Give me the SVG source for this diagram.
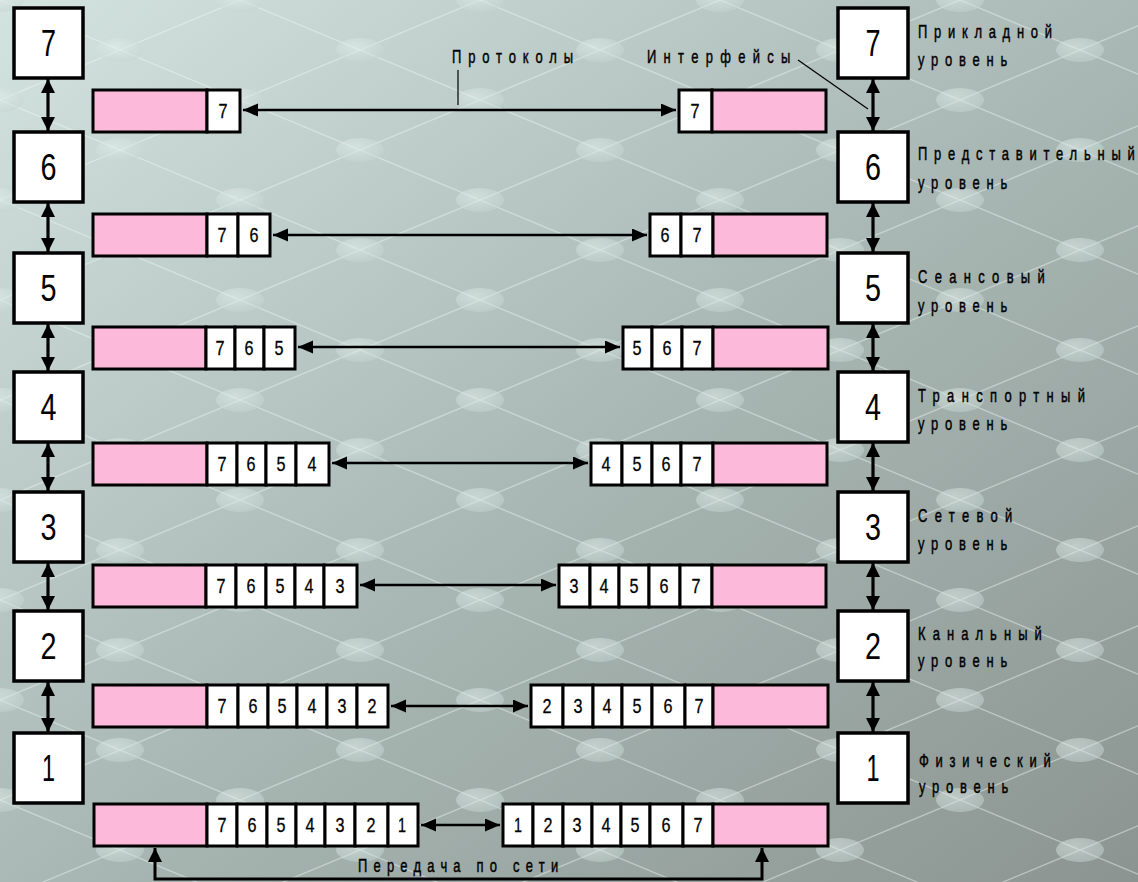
<svg xmlns="http://www.w3.org/2000/svg" width="1138" height="882" viewBox="0 0 1138 882">
<defs>
<linearGradient id="bg" x1="0" y1="0" x2="1" y2="1">
<stop offset="0" stop-color="#d3e3df"/>
<stop offset="0.5" stop-color="#aab9b5"/>
<stop offset="1" stop-color="#8b9491"/>
</linearGradient>
<radialGradient id="blob" cx="0.4" cy="0.35" r="0.7">
<stop offset="0" stop-color="#e8f3f0"/>
<stop offset="1" stop-color="#c3d3cf"/>
</radialGradient>
<pattern id="mesh" patternUnits="userSpaceOnUse" width="240" height="100">
<path d="M0,0 L240,100 M0,100 L240,0" stroke="#eef6f4" stroke-opacity="0.45" stroke-width="1.3" fill="none"/>
<g fill="url(#blob)" opacity="0.5">
<ellipse cx="0" cy="0" rx="24" ry="12"/>
<ellipse cx="240" cy="0" rx="24" ry="12"/>
<ellipse cx="0" cy="100" rx="24" ry="12"/>
<ellipse cx="240" cy="100" rx="24" ry="12"/>
<ellipse cx="120" cy="50" rx="24" ry="12"/>
</g>
</pattern>
<marker id="ah" markerUnits="userSpaceOnUse" markerWidth="16" markerHeight="14" refX="15" refY="6.5" orient="auto-start-reverse">
<path d="M0,0 L15,6.5 L0,13 z" fill="#000"/>
</marker>
<marker id="vh" markerUnits="userSpaceOnUse" markerWidth="16" markerHeight="15" refX="14" refY="7" orient="auto-start-reverse">
<path d="M0,0 L14,7 L0,14 z" fill="#000"/>
</marker>
<style>
.box{fill:#fff;stroke:#000;stroke-width:3.5}
.pink{fill:#fdb9da;stroke:#000;stroke-width:3}
.cell{fill:#fff;stroke:#000;stroke-width:3}
.big{font-family:"Liberation Sans",Arial,sans-serif;font-size:36px;fill:#000;text-anchor:middle}
.dig{font-family:"Liberation Sans",Arial,sans-serif;font-size:21px;fill:#000;text-anchor:middle;stroke:#000;stroke-width:0.3}
.lbl{font-family:"Liberation Sans",Arial,sans-serif;font-size:18px;fill:#000;stroke:#000;stroke-width:0.45}
.harr{stroke:#000;stroke-width:2.6;fill:none;marker-start:url(#ah);marker-end:url(#ah)}
.varr{stroke:#000;stroke-width:3.2;fill:none;marker-start:url(#vh);marker-end:url(#vh)}
.lead{stroke:#000;stroke-width:1.2;fill:none}
</style>
</defs>
<rect x="0" y="0" width="1138" height="882" fill="url(#bg)"/>
<rect x="0" y="0" width="1138" height="882" fill="url(#mesh)"/>

<!-- left layer boxes -->
<g id="left-7"><rect class="box" x="14" y="8" width="69" height="70"/><text class="big" x="48.5" y="56" textLength="15" lengthAdjust="spacingAndGlyphs">7</text></g>
<g id="left-6"><rect class="box" x="14" y="132" width="69" height="70"/><text class="big" x="48.5" y="180" textLength="16" lengthAdjust="spacingAndGlyphs">6</text></g>
<g id="left-5"><rect class="box" x="14" y="253" width="69" height="70"/><text class="big" x="48.5" y="301" textLength="16" lengthAdjust="spacingAndGlyphs">5</text></g>
<g id="left-4"><rect class="box" x="14" y="372" width="69" height="70"/><text class="big" x="48.5" y="420" textLength="16" lengthAdjust="spacingAndGlyphs">4</text></g>
<g id="left-3"><rect class="box" x="14" y="492" width="69" height="70"/><text class="big" x="48.5" y="540" textLength="16" lengthAdjust="spacingAndGlyphs">3</text></g>
<g id="left-2"><rect class="box" x="14" y="611" width="69" height="70"/><text class="big" x="48.5" y="659" textLength="16" lengthAdjust="spacingAndGlyphs">2</text></g>
<g id="left-1"><rect class="box" x="14" y="733" width="69" height="70"/><text class="big" x="48.5" y="781" textLength="13" lengthAdjust="spacingAndGlyphs">1</text></g>

<!-- right layer boxes with labels -->
<g id="right-7"><rect class="box" x="838" y="8" width="70" height="70"/><text class="big" x="873" y="56" textLength="15" lengthAdjust="spacingAndGlyphs">7</text>
<text class="lbl" transform="translate(918,38) scale(0.72,1)" textLength="186" lengthAdjust="spacing">Прикладной</text>
<text class="lbl" transform="translate(918,66) scale(0.72,1)" textLength="124" lengthAdjust="spacing">уровень</text></g>
<g id="right-6"><rect class="box" x="838" y="132" width="70" height="70"/><text class="big" x="873" y="180" textLength="16" lengthAdjust="spacingAndGlyphs">6</text>
<text class="lbl" transform="translate(918,160) scale(0.72,1)" textLength="301" lengthAdjust="spacing">Представительный</text>
<text class="lbl" transform="translate(918,189) scale(0.72,1)" textLength="124" lengthAdjust="spacing">уровень</text></g>
<g id="right-5"><rect class="box" x="838" y="253" width="70" height="70"/><text class="big" x="873" y="301" textLength="16" lengthAdjust="spacingAndGlyphs">5</text>
<text class="lbl" transform="translate(918,283) scale(0.72,1)" textLength="176" lengthAdjust="spacing">Сеансовый</text>
<text class="lbl" transform="translate(918,312) scale(0.72,1)" textLength="124" lengthAdjust="spacing">уровень</text></g>
<g id="right-4"><rect class="box" x="838" y="372" width="70" height="70"/><text class="big" x="873" y="420" textLength="16" lengthAdjust="spacingAndGlyphs">4</text>
<text class="lbl" transform="translate(918,402) scale(0.72,1)" textLength="232" lengthAdjust="spacing">Транспортный</text>
<text class="lbl" transform="translate(918,430) scale(0.72,1)" textLength="124" lengthAdjust="spacing">уровень</text></g>
<g id="right-3"><rect class="box" x="838" y="492" width="70" height="70"/><text class="big" x="873" y="540" textLength="16" lengthAdjust="spacingAndGlyphs">3</text>
<text class="lbl" transform="translate(918,522) scale(0.72,1)" textLength="131" lengthAdjust="spacing">Сетевой</text>
<text class="lbl" transform="translate(918,550) scale(0.72,1)" textLength="124" lengthAdjust="spacing">уровень</text></g>
<g id="right-2"><rect class="box" x="838" y="611" width="70" height="70"/><text class="big" x="873" y="659" textLength="16" lengthAdjust="spacingAndGlyphs">2</text>
<text class="lbl" transform="translate(918,640) scale(0.72,1)" textLength="172" lengthAdjust="spacing">Канальный</text>
<text class="lbl" transform="translate(918,667) scale(0.72,1)" textLength="124" lengthAdjust="spacing">уровень</text></g>
<g id="right-1"><rect class="box" x="838" y="733" width="70" height="70"/><text class="big" x="873" y="781" textLength="13" lengthAdjust="spacingAndGlyphs">1</text>
<text class="lbl" transform="translate(919,767) scale(0.72,1)" textLength="183" lengthAdjust="spacing">Физический</text>
<text class="lbl" transform="translate(919,793) scale(0.72,1)" textLength="124" lengthAdjust="spacing">уровень</text></g>

<!-- packets, layer 7 row -->
<g id="pkt-l7"><rect class="pink" x="93" y="90" width="114" height="42"/>
<rect class="cell" x="207" y="90" width="33" height="42"/><text class="dig" x="223" y="118" textLength="9" lengthAdjust="spacingAndGlyphs">7</text></g>
<g id="pkt-r7"><rect class="cell" x="679" y="90" width="33" height="42"/><text class="dig" x="695" y="118" textLength="9" lengthAdjust="spacingAndGlyphs">7</text>
<rect class="pink" x="712" y="90" width="114" height="42"/></g>

<!-- layer 6 row -->
<g id="pkt-l6"><rect class="pink" x="93" y="214" width="114" height="42"/>
<rect class="cell" x="207" y="214" width="31" height="42"/><text class="dig" x="222" y="242" textLength="9" lengthAdjust="spacingAndGlyphs">7</text>
<rect class="cell" x="238" y="214" width="32" height="42"/><text class="dig" x="254" y="242" textLength="9" lengthAdjust="spacingAndGlyphs">6</text></g>
<g id="pkt-r6"><rect class="cell" x="650" y="214" width="31" height="42"/><text class="dig" x="665" y="242" textLength="9" lengthAdjust="spacingAndGlyphs">6</text>
<rect class="cell" x="681" y="214" width="32" height="42"/><text class="dig" x="697" y="242" textLength="9" lengthAdjust="spacingAndGlyphs">7</text>
<rect class="pink" x="713" y="214" width="114" height="42"/></g>

<!-- layer 5 row -->
<g id="pkt-l5"><rect class="pink" x="93" y="327" width="113" height="42"/>
<rect class="cell" x="206" y="327" width="29" height="42"/><text class="dig" x="220" y="355" textLength="9" lengthAdjust="spacingAndGlyphs">7</text>
<rect class="cell" x="235" y="327" width="29" height="42"/><text class="dig" x="249" y="355" textLength="9" lengthAdjust="spacingAndGlyphs">6</text>
<rect class="cell" x="264" y="327" width="31" height="42"/><text class="dig" x="279" y="355" textLength="9" lengthAdjust="spacingAndGlyphs">5</text></g>
<g id="pkt-r5"><rect class="cell" x="623" y="327" width="29" height="42"/><text class="dig" x="637" y="355" textLength="9" lengthAdjust="spacingAndGlyphs">5</text>
<rect class="cell" x="652" y="327" width="30" height="42"/><text class="dig" x="667" y="355" textLength="9" lengthAdjust="spacingAndGlyphs">6</text>
<rect class="cell" x="682" y="327" width="31" height="42"/><text class="dig" x="697" y="355" textLength="9" lengthAdjust="spacingAndGlyphs">7</text>
<rect class="pink" x="713" y="327" width="115" height="42"/></g>

<!-- layer 4 row -->
<g id="pkt-l4"><rect class="pink" x="93" y="443" width="114" height="42"/>
<rect class="cell" x="207" y="443" width="30" height="42"/><text class="dig" x="222" y="471" textLength="9" lengthAdjust="spacingAndGlyphs">7</text>
<rect class="cell" x="237" y="443" width="29" height="42"/><text class="dig" x="251" y="471" textLength="9" lengthAdjust="spacingAndGlyphs">6</text>
<rect class="cell" x="266" y="443" width="30" height="42"/><text class="dig" x="281" y="471" textLength="9" lengthAdjust="spacingAndGlyphs">5</text>
<rect class="cell" x="296" y="443" width="33" height="42"/><text class="dig" x="312" y="471" textLength="9" lengthAdjust="spacingAndGlyphs">4</text></g>
<g id="pkt-r4"><rect class="cell" x="591" y="443" width="31" height="42"/><text class="dig" x="606" y="471" textLength="9" lengthAdjust="spacingAndGlyphs">4</text>
<rect class="cell" x="622" y="443" width="30" height="42"/><text class="dig" x="637" y="471" textLength="9" lengthAdjust="spacingAndGlyphs">5</text>
<rect class="cell" x="652" y="443" width="29" height="42"/><text class="dig" x="666" y="471" textLength="9" lengthAdjust="spacingAndGlyphs">6</text>
<rect class="cell" x="681" y="443" width="32" height="42"/><text class="dig" x="697" y="471" textLength="9" lengthAdjust="spacingAndGlyphs">7</text>
<rect class="pink" x="713" y="443" width="114" height="42"/></g>

<!-- layer 3 row -->
<g id="pkt-l3"><rect class="pink" x="93" y="565" width="113" height="42"/>
<rect class="cell" x="206" y="565" width="30" height="42"/><text class="dig" x="221" y="593" textLength="9" lengthAdjust="spacingAndGlyphs">7</text>
<rect class="cell" x="236" y="565" width="30" height="42"/><text class="dig" x="251" y="593" textLength="9" lengthAdjust="spacingAndGlyphs">6</text>
<rect class="cell" x="266" y="565" width="29" height="42"/><text class="dig" x="280" y="593" textLength="9" lengthAdjust="spacingAndGlyphs">5</text>
<rect class="cell" x="295" y="565" width="29" height="42"/><text class="dig" x="309" y="593" textLength="9" lengthAdjust="spacingAndGlyphs">4</text>
<rect class="cell" x="324" y="565" width="33" height="42"/><text class="dig" x="340" y="593" textLength="9" lengthAdjust="spacingAndGlyphs">3</text></g>
<g id="pkt-r3"><rect class="cell" x="559" y="565" width="31" height="42"/><text class="dig" x="574" y="593" textLength="9" lengthAdjust="spacingAndGlyphs">3</text>
<rect class="cell" x="590" y="565" width="29" height="42"/><text class="dig" x="604" y="593" textLength="9" lengthAdjust="spacingAndGlyphs">4</text>
<rect class="cell" x="619" y="565" width="30" height="42"/><text class="dig" x="634" y="593" textLength="9" lengthAdjust="spacingAndGlyphs">5</text>
<rect class="cell" x="649" y="565" width="31" height="42"/><text class="dig" x="664" y="593" textLength="9" lengthAdjust="spacingAndGlyphs">6</text>
<rect class="cell" x="680" y="565" width="32" height="42"/><text class="dig" x="696" y="593" textLength="9" lengthAdjust="spacingAndGlyphs">7</text>
<rect class="pink" x="712" y="565" width="114" height="42"/></g>

<!-- layer 2 row -->
<g id="pkt-l2"><rect class="pink" x="93" y="685" width="114" height="42"/>
<rect class="cell" x="207" y="685" width="31" height="42"/><text class="dig" x="222" y="713" textLength="9" lengthAdjust="spacingAndGlyphs">7</text>
<rect class="cell" x="238" y="685" width="30" height="42"/><text class="dig" x="253" y="713" textLength="9" lengthAdjust="spacingAndGlyphs">6</text>
<rect class="cell" x="268" y="685" width="29" height="42"/><text class="dig" x="282" y="713" textLength="9" lengthAdjust="spacingAndGlyphs">5</text>
<rect class="cell" x="297" y="685" width="30" height="42"/><text class="dig" x="312" y="713" textLength="9" lengthAdjust="spacingAndGlyphs">4</text>
<rect class="cell" x="327" y="685" width="30" height="42"/><text class="dig" x="342" y="713" textLength="9" lengthAdjust="spacingAndGlyphs">3</text>
<rect class="cell" x="357" y="685" width="31" height="42"/><text class="dig" x="372" y="713" textLength="9" lengthAdjust="spacingAndGlyphs">2</text></g>
<g id="pkt-r2"><rect class="cell" x="531" y="685" width="32" height="42"/><text class="dig" x="547" y="713" textLength="9" lengthAdjust="spacingAndGlyphs">2</text>
<rect class="cell" x="563" y="685" width="30" height="42"/><text class="dig" x="578" y="713" textLength="9" lengthAdjust="spacingAndGlyphs">3</text>
<rect class="cell" x="593" y="685" width="29" height="42"/><text class="dig" x="607" y="713" textLength="9" lengthAdjust="spacingAndGlyphs">4</text>
<rect class="cell" x="622" y="685" width="30" height="42"/><text class="dig" x="637" y="713" textLength="9" lengthAdjust="spacingAndGlyphs">5</text>
<rect class="cell" x="652" y="685" width="33" height="42"/><text class="dig" x="668" y="713" textLength="9" lengthAdjust="spacingAndGlyphs">6</text>
<rect class="cell" x="685" y="685" width="28" height="42"/><text class="dig" x="699" y="713" textLength="9" lengthAdjust="spacingAndGlyphs">7</text>
<rect class="pink" x="713" y="685" width="115" height="42"/></g>

<!-- layer 1 row -->
<g id="pkt-l1"><rect class="pink" x="94" y="804" width="113" height="42"/>
<rect class="cell" x="207" y="804" width="30" height="42"/><text class="dig" x="222" y="832" textLength="9" lengthAdjust="spacingAndGlyphs">7</text>
<rect class="cell" x="237" y="804" width="30" height="42"/><text class="dig" x="252" y="832" textLength="9" lengthAdjust="spacingAndGlyphs">6</text>
<rect class="cell" x="267" y="804" width="29" height="42"/><text class="dig" x="281" y="832" textLength="9" lengthAdjust="spacingAndGlyphs">5</text>
<rect class="cell" x="296" y="804" width="29" height="42"/><text class="dig" x="310" y="832" textLength="9" lengthAdjust="spacingAndGlyphs">4</text>
<rect class="cell" x="325" y="804" width="30" height="42"/><text class="dig" x="340" y="832" textLength="9" lengthAdjust="spacingAndGlyphs">3</text>
<rect class="cell" x="355" y="804" width="33" height="42"/><text class="dig" x="371" y="832" textLength="9" lengthAdjust="spacingAndGlyphs">2</text>
<rect class="cell" x="388" y="804" width="30" height="42"/><text class="dig" x="402" y="832" textLength="8" lengthAdjust="spacingAndGlyphs">1</text></g>
<g id="pkt-r1"><rect class="cell" x="503" y="804" width="30" height="42"/><text class="dig" x="518" y="832" textLength="8" lengthAdjust="spacingAndGlyphs">1</text>
<rect class="cell" x="533" y="804" width="30" height="42"/><text class="dig" x="548" y="832" textLength="9" lengthAdjust="spacingAndGlyphs">2</text>
<rect class="cell" x="563" y="804" width="29" height="42"/><text class="dig" x="577" y="832" textLength="9" lengthAdjust="spacingAndGlyphs">3</text>
<rect class="cell" x="592" y="804" width="29" height="42"/><text class="dig" x="606" y="832" textLength="9" lengthAdjust="spacingAndGlyphs">4</text>
<rect class="cell" x="621" y="804" width="29" height="42"/><text class="dig" x="635" y="832" textLength="9" lengthAdjust="spacingAndGlyphs">5</text>
<rect class="cell" x="650" y="804" width="33" height="42"/><text class="dig" x="666" y="832" textLength="9" lengthAdjust="spacingAndGlyphs">6</text>
<rect class="cell" x="683" y="804" width="30" height="42"/><text class="dig" x="698" y="832" textLength="9" lengthAdjust="spacingAndGlyphs">7</text>
<rect class="pink" x="713" y="804" width="115" height="42"/></g>

<!-- labels -->
<g id="label-protocols">
<text class="lbl" transform="translate(452,63) scale(0.72,1)" textLength="168" lengthAdjust="spacing">Протоколы</text>
<path class="lead" d="M458,70 V105"/>
</g>
<g id="label-interfaces">
<text class="lbl" transform="translate(647,63) scale(0.72,1)" textLength="199" lengthAdjust="spacing">Интерфейсы</text>
<path class="lead" d="M798,60 L868,109"/>
</g>
<g id="label-network">
<text class="lbl" transform="translate(358,872) scale(0.72,1)" textLength="278" lengthAdjust="spacing">Передача по сети</text>
</g>

<!-- connectors -->
<g id="connectors">
<line class="harr" x1="243" y1="110" x2="676" y2="110"/>
<line class="harr" x1="273" y1="235" x2="647" y2="235"/>
<line class="harr" x1="298" y1="347" x2="620" y2="347"/>
<line class="harr" x1="332" y1="463" x2="588" y2="463"/>
<line class="harr" x1="360" y1="585" x2="556" y2="585"/>
<line class="harr" x1="391" y1="706" x2="528" y2="706"/>
<line class="harr" x1="421" y1="825" x2="500" y2="825"/>

<line class="varr" x1="48" y1="79" x2="48" y2="131"/>
<line class="varr" x1="48" y1="203" x2="48" y2="252"/>
<line class="varr" x1="48" y1="324" x2="48" y2="371"/>
<line class="varr" x1="48" y1="443" x2="48" y2="491"/>
<line class="varr" x1="48" y1="563" x2="48" y2="610"/>
<line class="varr" x1="48" y1="682" x2="48" y2="732"/>

<line class="varr" x1="873" y1="79" x2="873" y2="131"/>
<line class="varr" x1="873" y1="203" x2="873" y2="252"/>
<line class="varr" x1="873" y1="324" x2="873" y2="371"/>
<line class="varr" x1="873" y1="443" x2="873" y2="491"/>
<line class="varr" x1="873" y1="563" x2="873" y2="610"/>
<line class="varr" x1="873" y1="682" x2="873" y2="732"/>

<path d="M155,848 V879 H762 V848" stroke="#000" stroke-width="3" fill="none" marker-start="url(#vh)" marker-end="url(#vh)"/>
</g>
</svg>
